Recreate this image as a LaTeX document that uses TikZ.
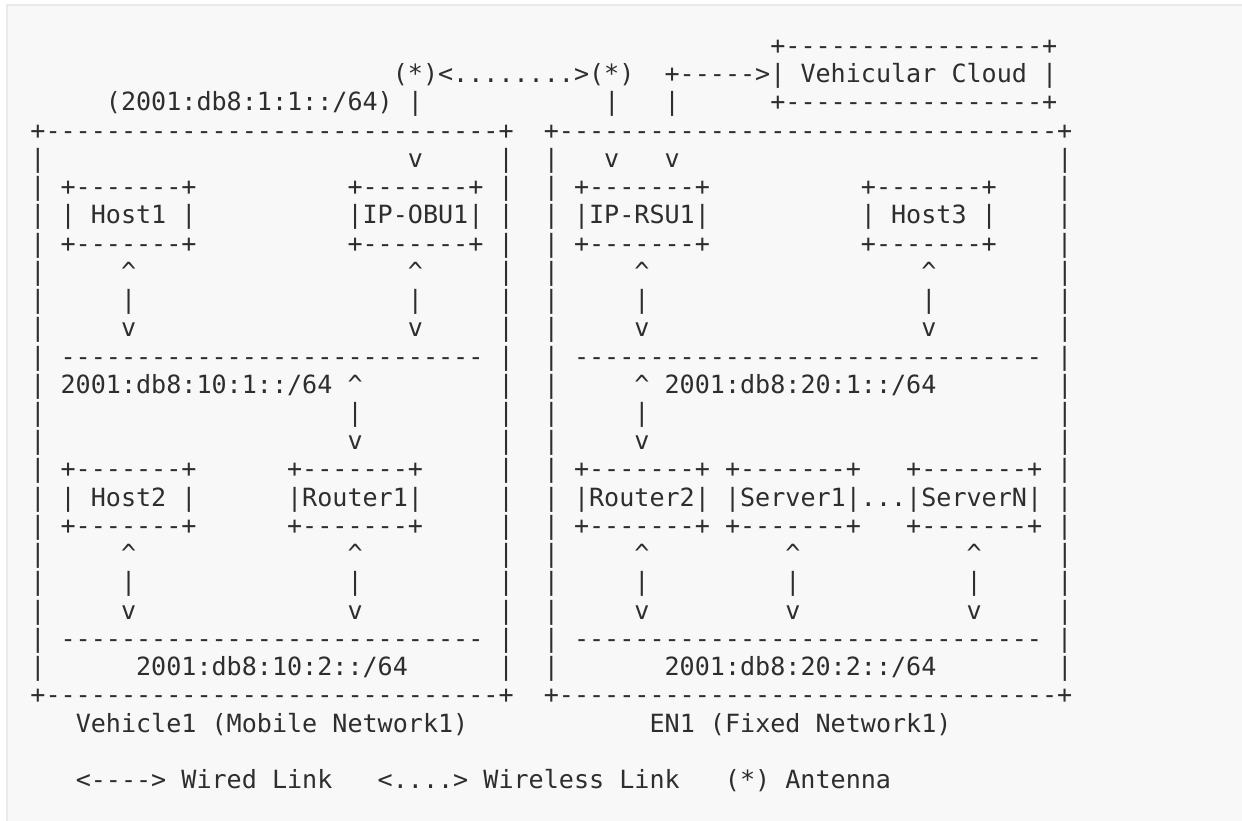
\documentclass[tikz,border=0pt]{standalone}
\usepackage{fontspec}
\setmonofont{DejaVu Sans Mono}
\definecolor{ink}{HTML}{2E2E2E}
\definecolor{pagebg}{HTML}{F8F8F8}
\definecolor{frame}{HTML}{E9E9E9}
\newdimen\chw \chw=15.1pt
\newcommand\gp[1]{\hspace*{#1\chw}}
\newcommand\crt{\textasciicircum}
\newcommand\arow[4]{\node[txt] (#1) at ({30.45+15.1*#3},{54.5+28.23*#2}) {#4};}
\begin{document}
\begin{tikzpicture}[x=1pt,y=-1pt,
  txt/.style={anchor=base west,inner sep=0pt,outer sep=0pt,text=ink,
    font=\ttfamily\fontsize{25.081}{28}\selectfont}]
\useasboundingbox (0,0) rectangle (1242,821);
\clip (0,0) rectangle (1242,821);
\fill[white] (0,0) rectangle (1242,821);
\draw[frame,line width=1.5pt,fill=pagebg] (7,5) rectangle (1260,840);
\arow{r0}{0}{49}{+-----------------+}
\arow{r1}{1}{24}{(*)<........>(*)\gp{2}+----->|\gp{1}Vehicular\gp{1}Cloud\gp{1}|}
\arow{r2}{2}{5}{(2001:db8:1:1::/64)\gp{1}|\gp{12}|\gp{3}|\gp{6}+-----------------+}
\arow{r3}{3}{0}{+------------------------------+\gp{2}+---------------------------------+}
\arow{r4}{4}{0}{|\gp{24}v\gp{5}|\gp{2}|\gp{3}v\gp{3}v\gp{25}|}
\arow{r5}{5}{0}{|\gp{1}+-------+\gp{10}+-------+\gp{1}|\gp{2}|\gp{1}+-------+\gp{10}+-------+\gp{4}|}
\arow{r6}{6}{0}{|\gp{1}|\gp{1}Host1\gp{1}|\gp{10}|IP-OBU1|\gp{1}|\gp{2}|\gp{1}|IP-RSU1|\gp{10}|\gp{1}Host3\gp{1}|\gp{4}|}
\arow{r7}{7}{0}{|\gp{1}+-------+\gp{10}+-------+\gp{1}|\gp{2}|\gp{1}+-------+\gp{10}+-------+\gp{4}|}
\arow{r8}{8}{0}{|\gp{5}\crt\gp{18}\crt\gp{5}|\gp{2}|\gp{5}\crt\gp{18}\crt\gp{8}|}
\arow{r9}{9}{0}{|\gp{5}|\gp{18}|\gp{5}|\gp{2}|\gp{5}|\gp{18}|\gp{8}|}
\arow{r10}{10}{0}{|\gp{5}v\gp{18}v\gp{5}|\gp{2}|\gp{5}v\gp{18}v\gp{8}|}
\arow{r11}{11}{0}{|\gp{1}----------------------------\gp{1}|\gp{2}|\gp{1}-------------------------------\gp{1}|}
\arow{r12}{12}{0}{|\gp{1}2001:db8:10:1::/64\gp{1}\crt\gp{9}|\gp{2}|\gp{5}\crt\gp{1}2001:db8:20:1::/64\gp{8}|}
\arow{r13}{13}{0}{|\gp{20}|\gp{9}|\gp{2}|\gp{5}|\gp{27}|}
\arow{r14}{14}{0}{|\gp{20}v\gp{9}|\gp{2}|\gp{5}v\gp{27}|}
\arow{r15}{15}{0}{|\gp{1}+-------+\gp{6}+-------+\gp{5}|\gp{2}|\gp{1}+-------+\gp{1}+-------+\gp{3}+-------+\gp{1}|}
\arow{r16}{16}{0}{|\gp{1}|\gp{1}Host2\gp{1}|\gp{6}|Router1|\gp{5}|\gp{2}|\gp{1}|Router2|\gp{1}|Server1|...|ServerN|\gp{1}|}
\arow{r17}{17}{0}{|\gp{1}+-------+\gp{6}+-------+\gp{5}|\gp{2}|\gp{1}+-------+\gp{1}+-------+\gp{3}+-------+\gp{1}|}
\arow{r18}{18}{0}{|\gp{5}\crt\gp{14}\crt\gp{9}|\gp{2}|\gp{5}\crt\gp{9}\crt\gp{11}\crt\gp{5}|}
\arow{r19}{19}{0}{|\gp{5}|\gp{14}|\gp{9}|\gp{2}|\gp{5}|\gp{9}|\gp{11}|\gp{5}|}
\arow{r20}{20}{0}{|\gp{5}v\gp{14}v\gp{9}|\gp{2}|\gp{5}v\gp{9}v\gp{11}v\gp{5}|}
\arow{r21}{21}{0}{|\gp{1}----------------------------\gp{1}|\gp{2}|\gp{1}-------------------------------\gp{1}|}
\arow{r22}{22}{0}{|\gp{6}2001:db8:10:2::/64\gp{6}|\gp{2}|\gp{7}2001:db8:20:2::/64\gp{8}|}
\arow{r23}{23}{0}{+------------------------------+\gp{2}+---------------------------------+}
\arow{cap1}{24}{3}{Vehicle1\gp{1}(Mobile\gp{1}Network1)}
\arow{cap2}{24}{41}{EN1\gp{1}(Fixed\gp{1}Network1)}
\arow{legend}{26}{3}{<---->\gp{1}Wired\gp{1}Link\gp{3}<....>\gp{1}Wireless\gp{1}Link\gp{3}(*)\gp{1}Antenna}
\end{tikzpicture}
\end{document}
